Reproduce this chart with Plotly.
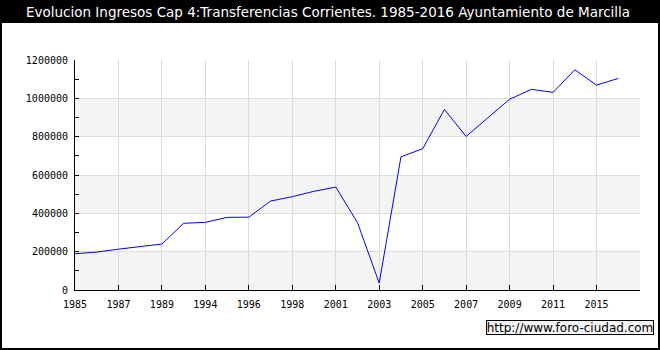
import plotly.graph_objects as go

# Data
years = ["1985", "1986", "1987", "1988", "1989", "1990", "1994", "1995", "1996", "1997",
         "1998", "1999", "2001", "2002", "2003", "2004", "2005", "2006", "2007", "2008",
         "2009", "2010", "2011", "2013", "2015", "2016"]
ingresos = [189000, 198000, 213000, 228000, 240000, 348000, 353000, 379000, 380000, 464000,
            487000, 515000, 537000, 351000, 36000, 695000, 737000, 942000, 801000, 899000,
            995000, 1047000, 1031000, 1149000, 1069000, 1104000]
title_text = "Evolucion Ingresos Cap 4:Transferencias Corrientes. 1985-2016 Ayuntamiento de Marcilla"
y_ticks = [0, 200000, 400000, 600000, 800000, 1000000, 1200000]

W, H = 660, 350
L, R, T, B = 75, 20, 60, 60
pw, ph = W - L - R, H - T - B


def px(x):
    return (x - L) / pw


def py(y):
    return (H - B - y) / ph


idx = list(range(len(years)))
tickvals = list(range(0, len(years) + 1, 2))
ticktext = [years[i] if i < len(years) else "" for i in tickvals]

fig = go.Figure()
fig.add_trace(go.Scatter(x=idx, y=ingresos, mode="lines",
                         line=dict(color="#0000ff", width=1), hoverinfo="skip"))

shapes = []
# white panel inside black frame
shapes.append(dict(type="rect", xref="paper", yref="paper", layer="below",
                   x0=px(2), x1=px(658), y0=py(348), y1=py(23),
                   fillcolor="white", line=dict(width=0)))
# alternating bands
for lo in [0, 400000, 800000]:
    shapes.append(dict(type="rect", xref="paper", yref="y", layer="below",
                       x0=0, x1=1, y0=lo, y1=lo + 200000,
                       fillcolor="#f4f4f4", line=dict(width=0)))

fig.update_layout(
    width=W, height=H,
    margin=dict(l=L, r=R, t=T, b=B),
    paper_bgcolor="black",
    plot_bgcolor="white",
    showlegend=False,
    shapes=shapes,
    font=dict(family="DejaVu Sans Mono", size=10, color="black"),
    xaxis=dict(range=[0, len(years)], tickvals=tickvals, ticktext=ticktext,
               showgrid=True, gridcolor="#dcdcdc", gridwidth=1,
               showline=True, linecolor="black", linewidth=1,
               ticks="inside", ticklen=5, tickcolor="black",
               zeroline=False, fixedrange=True, ticklabelstandoff=5),
    yaxis=dict(range=[0, 1200000], tickvals=y_ticks,
               ticktext=[str(v) for v in y_ticks],
               showgrid=True, gridcolor="#dcdcdc", gridwidth=1,
               showline=True, linecolor="black", linewidth=1,
               ticks="inside", ticklen=4, tickcolor="black",
               minor=dict(dtick=100000, ticks="inside", ticklen=4,
                          tickcolor="black", showgrid=False),
               zeroline=False, fixedrange=True, ticklabelstandoff=4),
    annotations=[
        dict(text=title_text, xref="paper", yref="paper",
             x=px(328), y=py(12), xanchor="center", yanchor="middle",
             showarrow=False, font=dict(family="DejaVu Sans", size=13.5, color="white")),
        dict(text="http://www.foro-ciudad.com", xref="paper", yref="paper",
             x=px(569.5), y=py(327.5), xanchor="center", yanchor="middle",
             showarrow=False, bgcolor="#f4f4f4", bordercolor="black", borderwidth=1,
             borderpad=0, width=166, height=13,
             font=dict(family="DejaVu Sans", size=12, color="black")),
    ],
)

fig.write_html("out.html", config={"displayModeBar": False},
               post_script="document.body.style.margin='0';document.body.style.padding='0';")
